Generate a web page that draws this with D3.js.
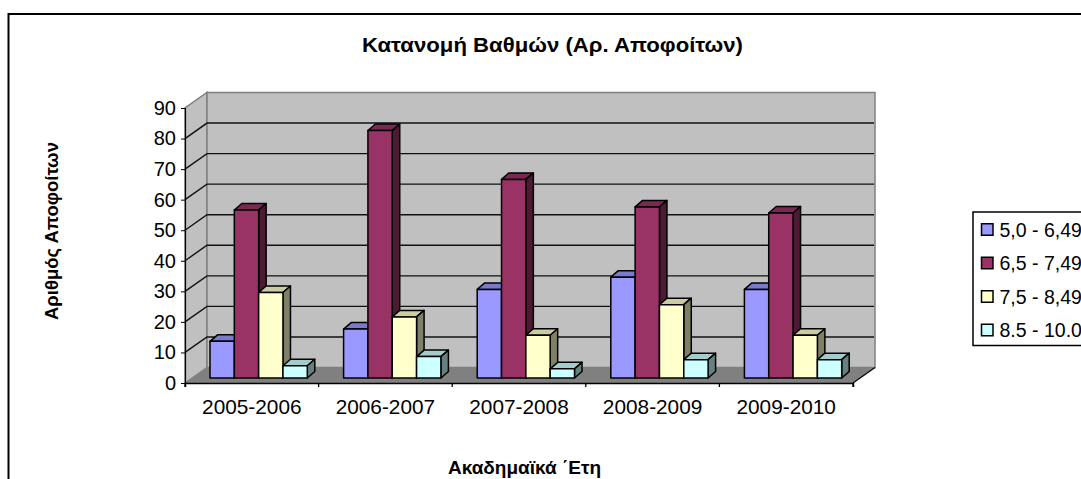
<!DOCTYPE html>
<html>
<head>
<meta charset="utf-8">
<script src="https://cdn.jsdelivr.net/npm/d3@7"></script>
<style>
    html, body { margin: 0; padding: 0; background: #fff; overflow: hidden; }
    text { font-family: "Liberation Sans", Arial, sans-serif; fill: #000; }
</style>
</head>
<body>
<svg id="fig" width="1081" height="479"></svg>
<script>
var years = ["2005-2006", "2006-2007", "2007-2008", "2008-2009", "2009-2010"];
var seriesNames = ["5,0 - 6,49", "6,5 - 7,49", "7,5 - 8,49", "8.5 - 10.0"];
var grade5 = [12, 16, 29, 33, 29];
var grade65 = [55, 81, 65, 56, 54];
var grade75 = [28, 20, 14, 24, 14];
var grade85 = [4, 7, 3, 6, 6];
var yTicks = [0, 10, 20, 30, 40, 50, 60, 70, 80, 90];

var colors = ["#9999ff", "#993366", "#ffffcc", "#ccffff"];
var tops = ["#7a7acc", "#7a2952", "#cccca3", "#a3cccc"];
var sides = ["#4d4d80", "#4d1a33", "#808066", "#668080"];
var allSeries = [grade5, grade65, grade75, grade85];

var svg = d3.select("#fig");

// oblique offset of the back wall
var wallDx = 22, wallDy = -15.5;
// bars sit a little behind the front edge of the floor, with their own depth
var barDx = 7.5, barDy = -6.5, barBack = 5;

var x = d3.scaleBand().domain(years).range([185, 853]);
var y = d3.scaleLinear().domain([0, 90]).range([383, 108]);
var inner = d3.scaleBand().domain(d3.range(4)).range([25, 25 + 97.3]);

// outer frame
svg.append("path").attr("d", "M8.5,479V14H1081").attr("fill", "none").attr("stroke", "#000").attr("stroke-width", 2);

// floor
svg.append("polygon").attr("fill", "#808080")
   .attr("points", [[185, y(0)], [853, y(0)], [853 + wallDx, y(0) + wallDy], [185 + wallDx, y(0) + wallDy]].join(" "));
// left wall
svg.append("polygon").attr("fill", "#c0c0c0").attr("stroke", "#808080").attr("stroke-width", 1.5)
   .attr("points", [[185, y(0)], [185, y(90)], [185 + wallDx, y(90) + wallDy], [185 + wallDx, y(0) + wallDy]].join(" "));
// back wall
svg.append("rect").attr("fill", "#c0c0c0").attr("stroke", "#808080").attr("stroke-width", 1.5)
   .attr("x", 185 + wallDx).attr("y", y(90) + wallDy)
   .attr("width", 853 - 185).attr("height", y(0) - y(90));

// gridlines, both walls
var grid = svg.append("g").attr("stroke", "#111").attr("stroke-width", 1.4).attr("fill", "none");
grid.selectAll("path").data(yTicks.filter(function (d) { return d > 0 && d < 90; })).enter().append("path")
    .attr("d", function (d) {
        return "M185," + y(d) + "L" + (185 + wallDx) + "," + (y(d) + wallDy) + "H" + (853 + wallDx - 1);
    });

// right edge of floor
svg.append("path").attr("fill", "none").attr("stroke", "#000").attr("stroke-width", 1.2)
   .attr("d", "M853," + y(0) + "L" + (853 + wallDx) + "," + (y(0) + wallDy));

// bars
var barY = function (v) { return y(v) - barBack; };
years.forEach(function (yr, i) {
    allSeries.forEach(function (vals, s) {
        var v = vals[i];
        var bx = x(yr) + inner(s), bw = inner.bandwidth();
        var g = svg.append("g").attr("stroke", "#000").attr("stroke-width", 1.5).attr("stroke-linejoin", "round");
        g.append("polygon").attr("fill", tops[s])
         .attr("points", [[bx, barY(v)], [bx + bw, barY(v)], [bx + bw + barDx, barY(v) + barDy], [bx + barDx, barY(v) + barDy]].join(" "));
        g.append("polygon").attr("fill", sides[s])
         .attr("points", [[bx + bw, barY(v)], [bx + bw + barDx, barY(v) + barDy], [bx + bw + barDx, barY(0) + barDy], [bx + bw, barY(0)]].join(" "));
        g.append("rect").attr("fill", colors[s])
         .attr("x", bx).attr("y", barY(v)).attr("width", bw).attr("height", barY(0) - barY(v));
    });
});

// y axis
var yAxis = svg.append("g").attr("transform", "translate(185,0)")
    .call(d3.axisLeft(y).tickValues(yTicks).tickSizeOuter(0).tickSize(4).tickPadding(5));
yAxis.select(".domain").attr("stroke", "#000").attr("stroke-width", 1.2);
yAxis.selectAll("text").style("font-size", "20px").style("font-family", '"Liberation Sans"');

// x axis
var xAxis = svg.append("g").attr("transform", "translate(0,383)")
    .call(d3.axisBottom(x).tickSize(4).tickPadding(12));
xAxis.select(".domain").attr("stroke", "#000").attr("stroke-width", 1.5);
xAxis.selectAll(".tick line").attr("x1", x.bandwidth() / 2).attr("x2", x.bandwidth() / 2).attr("stroke-width", 1.3);
xAxis.selectAll("text").style("font-size", "20.8px").style("font-family", '"Liberation Sans"');
svg.append("line").attr("x1", 185).attr("x2", 185).attr("y1", 383).attr("y2", 387).attr("stroke", "#000").attr("stroke-width", 1.3);

// titles
svg.append("text").attr("x", 552.5).attr("y", 52).attr("text-anchor", "middle")
   .attr("textLength", 381).attr("lengthAdjust", "spacingAndGlyphs")
   .style("font-size", "20px").style("font-weight", "bold").text("Κατανομή Βαθμών (Αρ. Αποφοίτων)");
svg.append("text").attr("text-anchor", "middle").attr("transform", "translate(58,231) rotate(-90)")
   .attr("textLength", 178).attr("lengthAdjust", "spacingAndGlyphs")
   .style("font-size", "19px").style("font-weight", "bold").text("Αριθμός Αποφοίτων");
svg.append("text").attr("x", 524.5).attr("y", 474).attr("text-anchor", "middle")
   .attr("textLength", 153).attr("lengthAdjust", "spacingAndGlyphs")
   .style("font-size", "19px").style("font-weight", "bold").text("Ακαδημαϊκά ΄Ετη");

// legend, runs off the right side of the page
var legend = svg.append("g");
legend.append("rect").attr("x", 973).attr("y", 212).attr("width", 130).attr("height", 133.5)
      .attr("fill", "#fff").attr("stroke", "#000").attr("stroke-width", 1.5);
var legendY = d3.scalePoint().domain(seriesNames).range([229.5, 330]);
seriesNames.forEach(function (name, s) {
    legend.append("rect").attr("x", 981.5).attr("y", legendY(name) - 5.75).attr("width", 11.5).attr("height", 11.5)
          .attr("fill", colors[s]).attr("stroke", "#000").attr("stroke-width", 1.5);
    legend.append("text").attr("x", 999.5).attr("y", legendY(name) + 7).style("font-size", "19.5px").text(name);
});
</script>
</body>
</html>
